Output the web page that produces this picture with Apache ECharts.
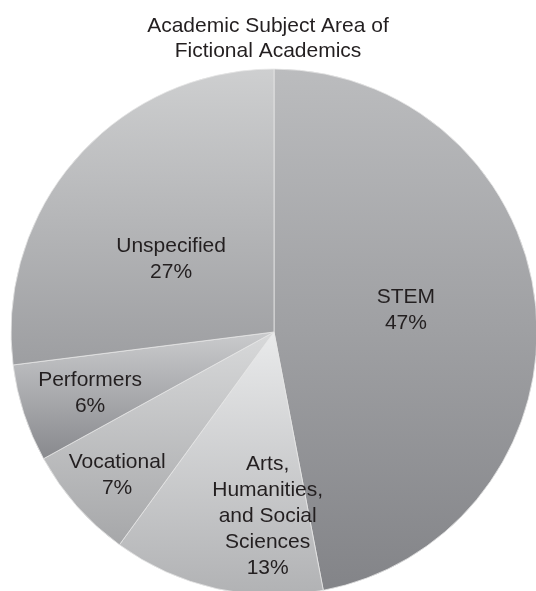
<!DOCTYPE html>
<html>
<head>
<meta charset="utf-8">
<script src="https://cdn.jsdelivr.net/npm/echarts@6/dist/echarts.min.js"></script>
<style>html,body{margin:0;padding:0;background:#fff}#c{width:536px;height:591px}</style>
</head>
<body>
<div id="c"></div>
<script>
const categories = ["STEM", "Arts,\nHumanities,\nand Social\nSciences", "Vocational", "Performers", "Unspecified"];
const values = [47, 13, 7, 6, 27];

const sliceColors = [
  ["#bbbcbe", "#838488"],
  ["#e9eaeb", "#b1b2b4"],
  ["#d8d9da", "#a6a7a9"],
  ["#cacbcd", "#88898d"],
  ["#cecfd0", "#9d9ea1"]
];
const labelShift = [[-2, -9], [23, 53], [-56, 54], [-56, 20], [-2, 16]];

const chart = echarts.init(document.getElementById('c'), null, {renderer: 'canvas'});
chart.setOption({
  animation: false,
  title: {
    text: "Academic Subject Area of\nFictional Academics",
    left: 'center',
    top: 9,
    textStyle: {fontFamily: '"Liberation Sans", Arial, sans-serif', fontSize: 21, fontWeight: 'normal', color: '#231f20', lineHeight: 25}
  },
  series: [{
    type: 'pie',
    center: [274, 332],
    radius: 263,
    startAngle: 90,
    clockwise: true,
    avoidLabelOverlap: false,
    itemStyle: {borderColor: '#e6e6e6', borderWidth: 0.8},
    label: {
      position: 'inside',
      formatter: p => p.name + '\n' + p.value + '%',
      fontFamily: '"Liberation Sans", Arial, sans-serif',
      fontSize: 21,
      lineHeight: 26,
      color: '#231f20',
      align: 'center'
    },
    labelLine: {show: false},
    labelLayout: p => ({dx: labelShift[p.dataIndex][0], dy: labelShift[p.dataIndex][1]}),
    emphasis: {disabled: true},
    data: categories.map((c, i) => ({
      name: c,
      value: values[i],
      itemStyle: {color: {type: 'linear', x: 0, y: 0, x2: 0, y2: 1, colorStops: [{offset: 0, color: sliceColors[i][0]}, {offset: 1, color: sliceColors[i][1]}]}}
    }))
  }]
});
</script>
</body>
</html>
